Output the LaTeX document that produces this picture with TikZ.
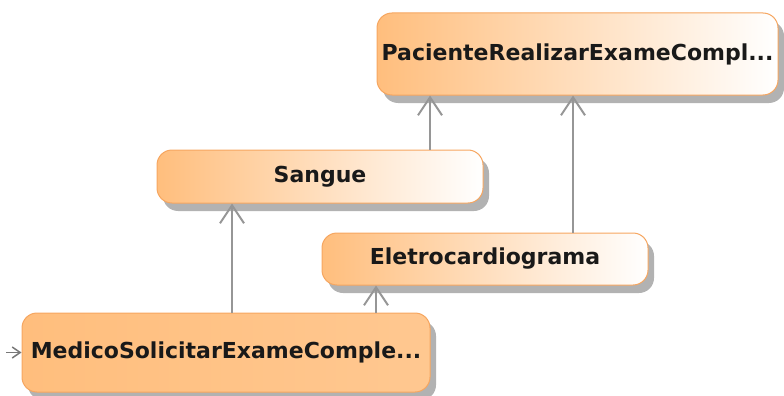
\documentclass[tikz,border=0pt]{standalone}
\usepackage{fontspec}
\setmainfont{DejaVu Sans}
\usetikzlibrary{arrows.meta,shadows}
\definecolor{ucorange}{RGB}{255,190,125}
\definecolor{ucborder}{RGB}{246,166,96}
\definecolor{ucshadow}{RGB}{178,178,178}
\definecolor{linkgray}{RGB}{150,150,150}

\begin{document}
\begin{tikzpicture}[
    x=1pt, y=-1pt,
    >={Straight Barb[length=18pt, width=24pt, line width=2pt]},
    usecase/.style={draw=ucborder, line width=1pt, rounded corners=15pt,
        left color=ucorange, right color=white, text=black!90,
        font=\fontsize{22}{26}\selectfont\bfseries, inner sep=0pt,
        drop shadow={shadow xshift=6pt, shadow yshift=-8pt, fill=ucshadow, opacity=1}},
    usecasemain/.style={usecase, fill=ucorange, left color=ucorange, right color=ucorange!85!white},
    dep/.style={linkgray, line width=2pt, ->}
]

% Canvas
\useasboundingbox (0,0) rectangle (784,396);

% Use cases
\node[usecase, minimum width=401pt, minimum height=82pt] (paciente) at (577.5,54) {PacienteRealizarExameCompl...};
\node[usecase, minimum width=326pt, minimum height=53pt] (sangue) at (320,176.5) {Sangue};
\node[usecase, minimum width=326pt, minimum height=52pt] (eletro) at (485,259) {Eletrocardiograma};
\node[usecasemain, minimum width=408pt, minimum height=79pt] (medico) at (226,352.5) {MedicoSolicitarExameComple...};

% Generalisations
\draw[dep] ([xshift=110pt]sangue.north) coordinate (s1) -- (s1 |- paciente.south);
\draw[dep] ([xshift=88pt]eletro.north) coordinate (e1) -- (e1 |- paciente.south);
\draw[dep] ([xshift=6pt]medico.north) coordinate (m1) -- (m1 |- sangue.south);
\draw[dep] ([xshift=150pt]medico.north) coordinate (m2) -- (m2 |- eletro.south);

% Entry point
\coordinate (entry) at (6,352.5);
\draw[linkgray!80!black, line width=1.5pt, -{Straight Barb[length=8pt, width=11pt]}] (entry) -- (medico.west);

\end{tikzpicture}
\end{document}
